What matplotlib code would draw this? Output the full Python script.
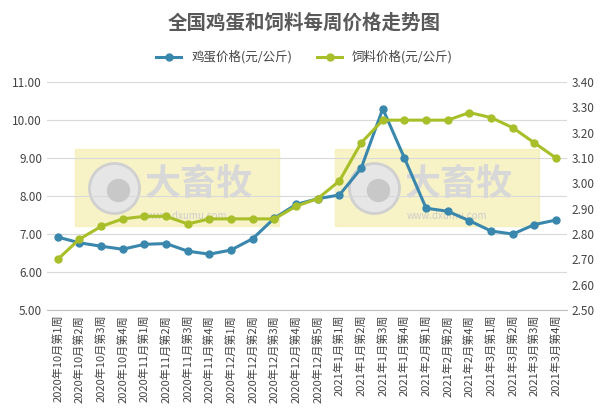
import matplotlib
matplotlib.use('Agg')
import matplotlib.pyplot as plt
from matplotlib.patches import Rectangle

plt.rcParams['font.family'] = ['Noto Sans CJK SC', 'DejaVu Sans']

weeks = ['2020年10月第1周','2020年10月第2周','2020年10月第3周','2020年10月第4周',
         '2020年11月第1周','2020年11月第2周','2020年11月第3周','2020年11月第4周',
         '2020年12月第1周','2020年12月第2周','2020年12月第3周','2020年12月第4周','2020年12月第5周',
         '2021年1月第1周','2021年1月第2周','2021年1月第3周','2021年1月第4周',
         '2021年2月第1周','2021年2月第2周','2021年2月第4周',
         '2021年3月第1周','2021年3月第2周','2021年3月第3周','2021年3月第4周']
egg = [6.92,6.77,6.68,6.60,6.73,6.75,6.55,6.47,6.58,6.88,7.42,7.78,7.93,8.03,8.73,10.30,9.00,7.68,7.60,7.35,7.08,7.00,7.25,7.37]
feed = [2.70,2.78,2.83,2.86,2.87,2.87,2.84,2.86,2.86,2.86,2.86,2.91,2.94,3.01,3.16,3.25,3.25,3.25,3.25,3.28,3.26,3.22,3.16,3.10]

fig = plt.figure(figsize=(6.09,4.15), dpi=100)
ax = fig.add_axes([0.077, 0.253, 0.854, 0.549])
ax2 = ax.twinx()
x = list(range(len(weeks)))

# watermarks
for x0, x1 in [(0.8, 10.2), (12.8, 22.2)]:
    ax.add_patch(Rectangle((x0, 7.2), x1-x0, 2.05, color='#f7f0b8', alpha=0.8, zorder=0))
    cx = x0 + 1.8
    ax.scatter([cx], [8.2], s=1300, color='#e6e6e6', edgecolors='#d0d0d0', linewidths=2, zorder=0.5)
    ax.scatter([cx+0.2], [8.15], s=250, color='#c8c8c8', zorder=0.55)
    ax.text(cx+1.4, 8.3, '大畜牧', fontsize=26, color='#d8d8d8', fontweight='bold', va='center', zorder=0.6)
    ax.text(cx+1.5, 7.4, 'www.dxumu.com', fontsize=7, color='#cccccc', zorder=0.6)

l1, = ax.plot(x, egg, color='#3a87ad', lw=2.2, marker='o', ms=5, zorder=3, label='鸡蛋价格(元/公斤)')
l2, = ax2.plot(x, feed, color='#a8bf2a', lw=2.2, marker='o', ms=5, zorder=3, label='饲料价格(元/公斤)')

ax.set_ylim(5, 11); ax.set_yticks([5,6,7,8,9,10,11])
ax.set_yticklabels([f'{v:.2f}' for v in range(5,12)])
ax2.set_ylim(2.5, 3.4); ax2.set_yticks([2.5+0.1*i for i in range(10)])
ax2.set_yticklabels([f'{2.5+0.1*i:.2f}' for i in range(10)])
ax.set_xlim(-0.5, 23.5)
ax.set_xticks(x); ax.set_xticklabels(weeks, rotation=90, fontsize=8, color='#444444')
ax.grid(axis='y', color='#d9d9d9', lw=0.8); ax.set_axisbelow(True)
for a in (ax, ax2):
    for s in a.spines.values(): s.set_visible(False)
    a.tick_params(length=0, labelsize=8.5, colors='#444444')
ax.spines['bottom'].set_visible(True); ax.spines['bottom'].set_color('#bfbfbf')
ax.tick_params(axis='x', labelsize=8)

fig.text(0.5, 0.945, '全国鸡蛋和饲料每周价格走势图', ha='center', va='center', fontsize=14, fontweight='bold', color='#595959')
fig.legend(handles=[l1, l2], loc='center', bbox_to_anchor=(0.5, 0.862), ncol=2, frameon=False, fontsize=9, labelcolor='#444444')
fig.savefig('out.png', dpi=100)
